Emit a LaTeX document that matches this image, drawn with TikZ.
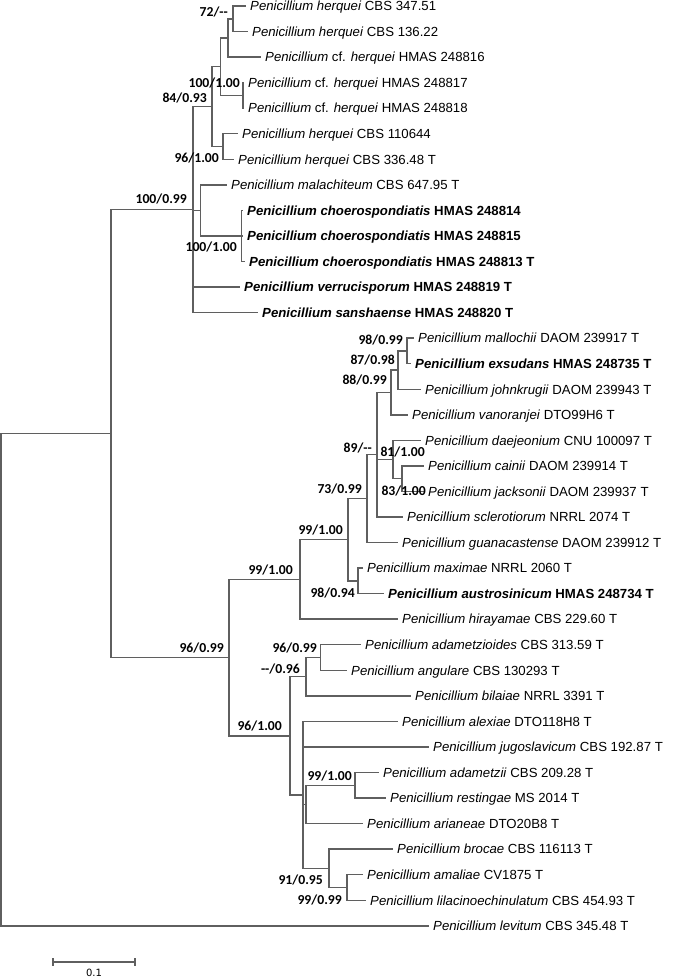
\documentclass[tikz,border=0pt]{standalone}
\usepackage{fontspec}
\setmainfont{Liberation Sans}
\newfontfamily\lblfont{Carlito}
\newfontfamily\scalefnt{DejaVu Sans}
\definecolor{linegray}{RGB}{95,95,95}
\newcommand{\spn}[2]{\textit{Penicillium #1} #2}
\newcommand{\bspn}[2]{\textbf{\textit{Penicillium #1} #2}}
\newcommand{\cfspn}[1]{\textit{Penicillium} cf. \textit{herquei} #1}
\tikzset{
  br/.style={draw=linegray, line width=1.45pt},
  leaf/.style={anchor=west, inner ysep=0pt, inner xsep=4.5pt, text height=10pt, text depth=0.5pt,
    font=\fontsize{13.2}{15}\selectfont},
  bs/.style={anchor=east, inner sep=0pt, text height=9pt, text depth=0pt,
    font=\lblfont\bfseries\fontsize{13.7}{15}\selectfont},
}
\begin{document}
\begin{tikzpicture}[x=1pt,y=-1pt]
\useasboundingbox (0,0) rectangle (675,979);
% internal nodes
\coordinate (R) at (1,679.7);
\coordinate (A) at (111,433.6);
\coordinate (B) at (193,209.6);
\coordinate (E) at (212,106.6);
\coordinate (G) at (220.7,66.7);
\coordinate (I) at (228,37.9);
\coordinate (K) at (233,18.8);
\coordinate (J) at (243,95.4);
\coordinate (H) at (223,146.5);
\coordinate (F) at (200.7,210.4);
\coordinate (L) at (241.7,235.95);
\coordinate (D) at (229,657.65);
\coordinate (M) at (300,579.5);
\coordinate (n99b) at (348,539.75);
\coordinate (n73) at (367,498.6);
\coordinate (n89) at (377,454.7);
\coordinate (n88) at (391,392.45);
\coordinate (n87) at (398,370.1);
\coordinate (n98) at (407,350.9);
\coordinate (n81) at (393,459.5);
\coordinate (n83) at (402,478.7);
\coordinate (n9894) at (358,580.9);
\coordinate (N) at (290,735.8);
\coordinate (n096) at (306,676.7);
\coordinate (n9699) at (320.7,657.5);
\coordinate (Q) at (303,794.85);
\coordinate (P) at (306,804.45);
\coordinate (n9910) at (355,785.3);
\coordinate (n91) at (329,868.3);
\coordinate (n9999) at (347,887.5);
% leaves
\node[leaf] (l0) at (245.5,6.0) {\spn{herquei}{CBS 347.51}};
\node[leaf] (l1) at (247.5,31.55) {\spn{herquei}{CBS 136.22}};
\node[leaf] (l2) at (260.5,57.1) {\cfspn{HMAS 248816}};
\node[leaf] (l3) at (243.5,82.65) {\cfspn{HMAS 248817}};
\node[leaf] (l4) at (243.5,108.2) {\cfspn{HMAS 248818}};
\node[leaf] (l5) at (237.5,133.75) {\spn{herquei}{CBS 110644}};
\node[leaf] (l6) at (233.5,159.3) {\spn{herquei}{CBS 336.48 T}};
\node[leaf] (l7) at (226.5,184.85) {\spn{malachiteum}{CBS 647.95 T}};
\node[leaf] (l8) at (242.5,210.4) {\bspn{choerospondiatis}{HMAS 248814}};
\node[leaf] (l9) at (242.5,235.95) {\bspn{choerospondiatis}{HMAS 248815}};
\node[leaf] (l10) at (244.5,261.5) {\bspn{choerospondiatis}{HMAS 248813 T}};
\node[leaf] (l11) at (239.5,287.05) {\bspn{verrucisporum}{HMAS 248819 T}};
\node[leaf] (l12) at (257.5,312.6) {\bspn{sanshaense}{HMAS 248820 T}};
\node[leaf] (l13) at (413.5,338.15) {\spn{mallochii}{DAOM 239917 T}};
\node[leaf] (l14) at (410.5,363.7) {\bspn{exsudans}{HMAS 248735 T}};
\node[leaf] (l15) at (420.5,389.25) {\spn{johnkrugii}{DAOM 239943 T}};
\node[leaf] (l16) at (407.5,414.8) {\spn{vanoranjei}{DTO99H6 T}};
\node[leaf] (l17) at (420.5,440.35) {\spn{daejeonium}{CNU 100097 T}};
\node[leaf] (l18) at (423.5,465.9) {\spn{cainii}{DAOM 239914 T}};
\node[leaf] (l19) at (423.5,491.45) {\spn{jacksonii}{DAOM 239937 T}};
\node[leaf] (l20) at (402.5,517.0) {\spn{sclerotiorum}{NRRL 2074 T}};
\node[leaf] (l21) at (397.5,542.55) {\spn{guanacastense}{DAOM 239912 T}};
\node[leaf] (l22) at (362.5,568.1) {\spn{maximae}{NRRL 2060 T}};
\node[leaf] (l23) at (383.5,593.65) {\bspn{austrosinicum}{HMAS 248734 T}};
\node[leaf] (l24) at (397.5,619.2) {\spn{hirayamae}{CBS 229.60 T}};
\node[leaf] (l25) at (360.5,644.75) {\spn{adametzioides}{CBS 313.59 T}};
\node[leaf] (l26) at (346.5,670.3) {\spn{angulare}{CBS 130293 T}};
\node[leaf] (l27) at (410.5,695.85) {\spn{bilaiae}{NRRL 3391 T}};
\node[leaf] (l28) at (397.5,721.4) {\spn{alexiae}{DTO118H8 T}};
\node[leaf] (l29) at (428.5,746.95) {\spn{jugoslavicum}{CBS 192.87 T}};
\node[leaf] (l30) at (378.5,772.5) {\spn{adametzii}{CBS 209.28 T}};
\node[leaf] (l31) at (385.5,798.05) {\spn{restingae}{MS 2014 T}};
\node[leaf] (l32) at (362.5,823.6) {\spn{arianeae}{DTO20B8 T}};
\node[leaf] (l33) at (392.5,849.15) {\spn{brocae}{CBS 116113 T}};
\node[leaf] (l34) at (362.5,874.7) {\spn{amaliae}{CV1875 T}};
\node[leaf] (l35) at (365.5,900.25) {\spn{lilacinoechinulatum}{CBS 454.93 T}};
\node[leaf] (l36) at (428.5,925.8) {\spn{levitum}{CBS 345.48 T}};
% branches
\draw[br] (R) |- (A);   \draw[br] (R) |- (l36);
\draw[br] (A) |- (B);   \draw[br] (A) |- (D);
\draw[br] (B) |- (E);   \draw[br] (B) |- (F);  \draw[br] (B) |- (l11); \draw[br] (B) |- (l12);
\draw[br] (E) |- (G);   \draw[br] (E) |- (H);
\draw[br] (G) |- (I);   \draw[br] (G) |- (J);
\draw[br] (I) |- (K);   \draw[br] (I) |- (l2);
\draw[br] (K) |- (l0);  \draw[br] (K) |- (l1);
\draw[br] (J) |- (l3);  \draw[br] (J) |- (l4);
\draw[br] (H) |- (l5);  \draw[br] (H) |- (l6);
\draw[br] (F) |- (l7);  \draw[br] (F) |- (L);
\draw[br] (L) |- (l8);  \draw[br] (L) |- (l9);  \draw[br] (L) |- (l10);
\draw[br] (D) |- (M);   \draw[br] (D) |- (N);
\draw[br] (M) |- (n99b); \draw[br] (M) |- (l24);
\draw[br] (n99b) |- (n73); \draw[br] (n99b) |- (n9894);
\draw[br] (n73) |- (n89); \draw[br] (n73) |- (l21);
\draw[br] (n89) |- (n88); \draw[br] (n89) |- (n81); \draw[br] (n89) |- (l20);
\draw[br] (n88) |- (n87); \draw[br] (n88) |- (l16);
\draw[br] (n87) |- (n98); \draw[br] (n87) |- (l15);
\draw[br] (n98) |- (l13); \draw[br] (n98) |- (l14);
\draw[br] (n81) |- (l17); \draw[br] (n81) |- (n83);
\draw[br] (n83) |- (l18); \draw[br] (n83) |- (l19);
\draw[br] (n9894) |- (l22); \draw[br] (n9894) |- (l23);
\draw[br] (N) |- (n096); \draw[br] (N) |- (Q);
\draw[br] (n096) |- (n9699); \draw[br] (n096) |- (l27);
\draw[br] (n9699) |- (l25); \draw[br] (n9699) |- (l26);
\draw[br] (Q) |- (l28); \draw[br] (Q) |- (l29); \draw[br] (Q) |- (P); \draw[br] (Q) |- (n91);
\draw[br] (P) |- (n9910); \draw[br] (P) |- (l32);
\draw[br] (n9910) |- (l30); \draw[br] (n9910) |- (l31);
\draw[br] (n91) |- (l33); \draw[br] (n91) |- (n9999);
\draw[br] (n9999) |- (l34); \draw[br] (n9999) |- (l35);
% support labels
\node[bs] (bK) at (228,12) {72/-{}-};
\node[bs] (bJ) at (240,83) {100/1.00};
\node[bs] (bE) at (207,98) {84/0.93};
\node[bs] (bH) at (219,158) {96/1.00};
\node[bs] (bB) at (187,199) {100/0.99};
\node[bs] (bL) at (237,247) {100/1.00};
\node[bs] (b98) at (403,340) {98/0.99};
\node[bs] (b87) at (395,360) {87/0.98};
\node[bs] (b88) at (387,380) {88/0.99};
\node[bs] (b89) at (372,448) {89/-{}-};
\node[bs] (b81) at (425,452) {81/1.00};
\node[bs] (b83) at (426,491) {83/1.00};
\node[bs] (b73) at (362,489) {73/0.99};
\node[bs] (b99b) at (343,530) {99/1.00};
\node[bs] (b9894) at (355,593) {98/0.94};
\node[bs] (bM) at (293,570) {99/1.00};
\node[bs] (bD) at (224,648) {96/0.99};
\node[bs] (b9699) at (317,648) {96/0.99};
\node[bs] (b096) at (300,669) {-{}-/0.96};
\node[bs] (bN) at (282,726) {96/1.00};
\node[bs] (b9910) at (352,776) {99/1.00};
\node[bs] (b91) at (323,880) {91/0.95};
\node[bs] (b9999) at (342,900) {99/0.99};
% scale bar
\coordinate (s1) at (53,962);
\coordinate (s2) at (135,962);
\draw[br] (s1) -- (s2);
\draw[br] ([yshift=4pt]s1) -- ([yshift=-4pt]s1);
\draw[br] ([yshift=4pt]s2) -- ([yshift=-4pt]s2);
\node[font=\scalefnt\fontsize{10}{12}\selectfont, inner sep=0pt] (sl) at (94,973) {0.1};
\end{tikzpicture}
\end{document}
